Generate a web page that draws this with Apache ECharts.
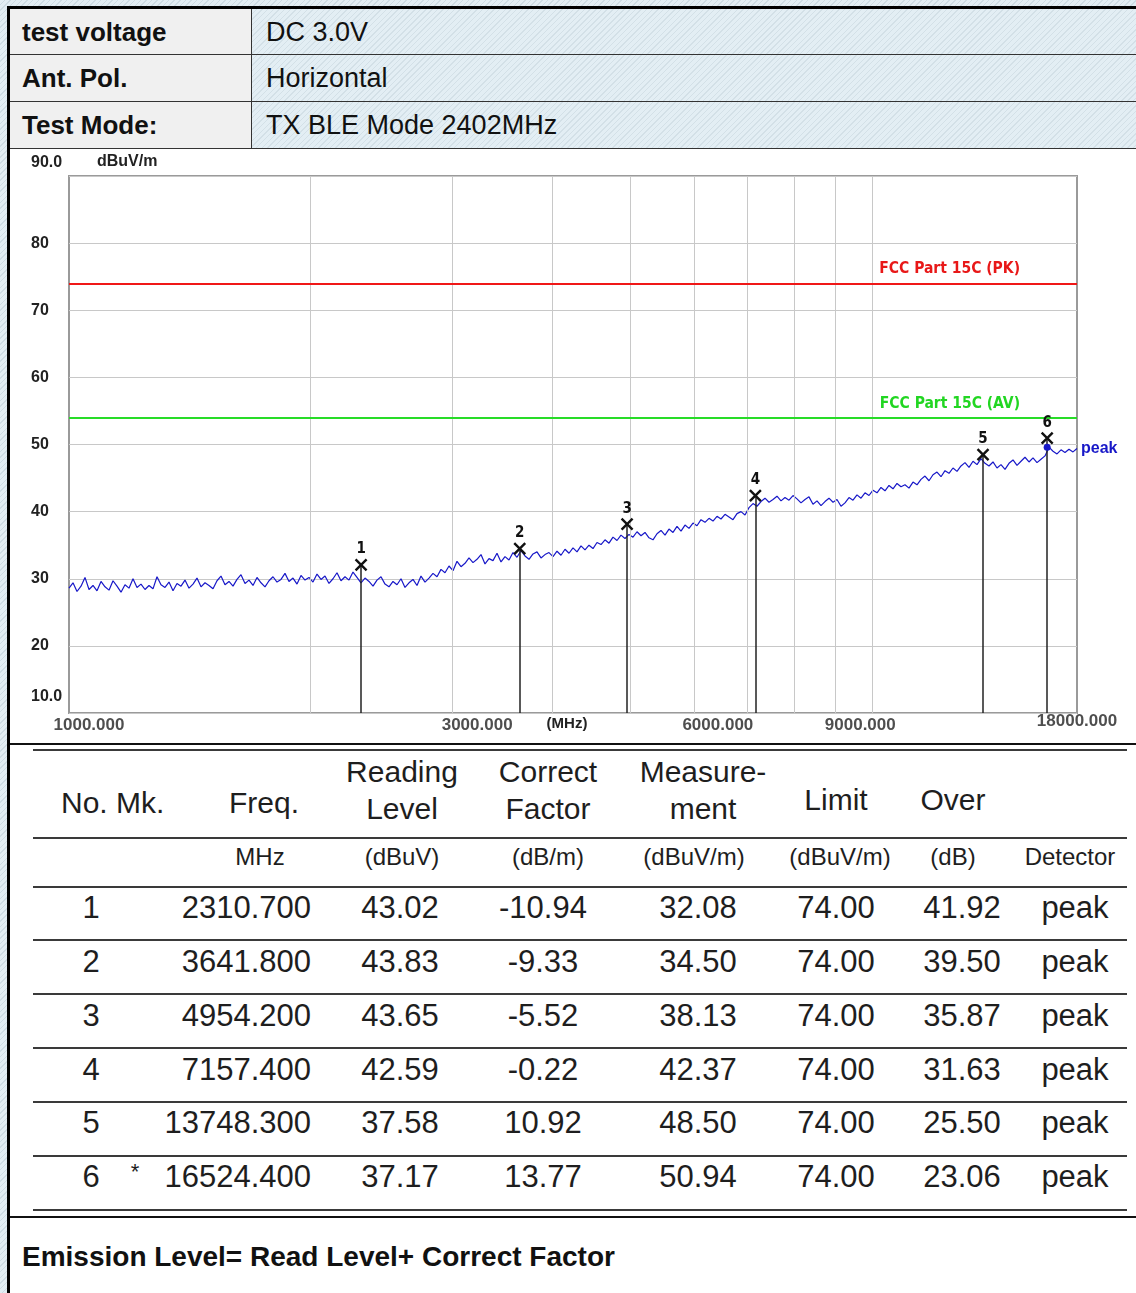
<!DOCTYPE html>
<html>
<head>
<meta charset="utf-8">
<script src="https://cdn.jsdelivr.net/npm/echarts@6/dist/echarts.min.js"></script>
<style>
  html, body { margin: 0; padding: 0; }
  body {
    width: 1136px; height: 1293px; position: relative; overflow: hidden;
    font-family: "Liberation Sans", Arial, sans-serif; color: #1e1e1e;
    background: repeating-linear-gradient(135deg, #e2edf3 0 3px, #cddbe3 3px 4px);
  }
  .abs { position: absolute; }
  .sheet { left: 7px; top: 6px; width: 1129px; height: 1287px; background: #fff;
           border-top: 3px solid #000; border-left: 3px solid #000; box-sizing: border-box; }
  .hdrL { background: #f0f0f0; }
  .hdrR { background: repeating-linear-gradient(135deg, #e3eef4 0 3px, #d3e0e7 3px 4px); }
  .txt { position: absolute; white-space: pre; line-height: 1; }
  #chart { position: absolute; left: 10px; top: 149px; width: 1126px; height: 594px; }
</style>
</head>
<body>
<div class="abs sheet"></div>
<div id="page"></div>
<div id="chart"></div>
<script>
// ---- report header ----
const headerKeys = ['test voltage', 'Ant. Pol.', 'Test Mode:'];
const headerValues = ['DC 3.0V', 'Horizontal', 'TX BLE Mode 2402MHz'];

// ---- marker table ----
const markerNo = [1, 2, 3, 4, 5, 6];
const markerMk = ['', '', '', '', '', '*'];
const markerFreq = [2310.7, 3641.8, 4954.2, 7157.4, 13748.3, 16524.4];
const readingLevel = [43.02, 43.83, 43.65, 42.59, 37.58, 37.17];
const correctFactor = [-10.94, -9.33, -5.52, -0.22, 10.92, 13.77];
const measurement = [32.08, 34.50, 38.13, 42.37, 48.50, 50.94];
const limitLevel = [74.00, 74.00, 74.00, 74.00, 74.00, 74.00];
const overMargin = [41.92, 39.50, 35.87, 31.63, 25.50, 23.06];
const detector = ['peak', 'peak', 'peak', 'peak', 'peak', 'peak'];
const footNote = 'Emission Level= Read Level+ Correct Factor';

// ---- spectrum plot ----
const limitPK = 74;
const limitAV = 54;
const limitPKName = 'FCC Part 15C (PK)';
const limitAVName = 'FCC Part 15C (AV)';
const gridFreqs = [2000, 3000, 4000, 5000, 6000, 7000, 8000, 9000, 10000];
const xTickFreqs = [1000, 3000, 6000, 9000, 18000];
const xTickLabels = ['1000.000', '3000.000', '6000.000', '9000.000', '18000.000'];
const yTickLabels = { 10: '10.0', 20: '20', 30: '30', 40: '40', 50: '50', 60: '60', 70: '70', 80: '80', 90: '90.0' };
const peakDot = [16524.4, 49.6];
// peak-detector sweep, 1 GHz to 18 GHz, evenly spaced on the log frequency scale (dBuV/m)
const traceLevel = [
  28.6,29.4,28.1,28.9,30.2,28.4,29.0,28.2,29.6,28.8,
  28.3,29.7,28.9,28.0,29.1,28.6,30.0,28.7,29.2,28.4,
  29.0,28.5,30.3,29.1,28.7,29.5,28.2,29.3,28.9,29.8,
  28.6,29.2,30.1,28.8,29.4,29.0,28.5,29.7,30.4,29.1,
  29.6,28.9,29.9,30.6,29.3,29.8,29.0,30.2,29.4,28.8,
  29.7,30.3,29.5,29.9,30.8,29.6,30.1,29.2,30.5,29.8,
  30.2,29.5,30.7,29.9,30.4,29.3,30.0,30.9,29.7,30.3,
  29.8,31.0,30.2,29.4,30.1,29.6,28.9,29.8,30.3,29.2,
  28.8,29.6,29.1,30.0,28.7,29.4,29.9,29.0,30.4,29.5,
  30.1,30.8,30.3,31.4,30.9,31.9,31.2,32.6,31.8,32.3,
  33.1,32.4,32.9,33.6,32.2,33.0,32.7,33.8,32.5,33.3,
  32.8,33.9,33.2,34.2,33.4,32.9,33.7,34.0,33.1,33.6,
  33.9,33.3,34.1,33.5,34.4,33.8,34.6,34.0,34.9,34.3,
  35.0,34.5,35.4,35.1,35.8,35.3,36.2,35.7,36.5,36.0,
  36.6,36.2,37.0,36.4,36.9,36.1,35.8,36.7,37.2,36.5,
  37.4,36.9,37.8,37.1,38.0,37.5,38.3,37.9,38.8,38.4,
  39.0,38.6,39.3,38.9,39.6,39.2,38.8,39.7,40.0,39.5,
  40.6,41.2,40.8,41.5,42.0,41.4,41.8,42.3,41.6,42.1,
  41.7,42.4,41.9,41.3,41.8,42.2,41.1,41.6,40.9,41.5,
  42.0,41.4,41.8,40.8,41.3,42.1,41.7,42.5,42.0,42.8,
  42.4,43.2,42.8,43.6,43.1,43.9,43.4,44.2,43.7,44.0,
  43.5,44.4,44.0,44.8,45.3,44.6,45.5,45.9,45.2,46.1,
  45.7,46.5,46.0,46.8,47.3,46.6,47.5,47.0,47.9,47.2,
  46.8,47.4,46.5,47.0,46.3,47.2,47.7,46.9,47.5,48.1,
  47.4,48.0,47.3,47.8,48.3,49.6,49.0,48.6,49.2,48.8,
  49.3,48.9,49.4
];

// ---------- HTML parts of the report ----------
const page = document.getElementById('page');
function box(x, y, w, h, cls, style) {
  const d = document.createElement('div');
  d.className = 'abs ' + (cls || '');
  Object.assign(d.style, { left: x + 'px', top: y + 'px', width: w + 'px', height: h + 'px' }, style || {});
  page.appendChild(d);
  return d;
}
function put(text, x, y, opt) {
  const o = Object.assign({ align: 'left', size: 24, weight: 'normal', color: '#1e1e1e' }, opt || {});
  const d = document.createElement('div');
  d.className = 'txt';
  d.textContent = text;
  const tx = o.align === 'center' ? '-50%' : o.align === 'right' ? '-100%' : '0';
  Object.assign(d.style, {
    left: x + 'px', top: y + 'px', fontSize: o.size + 'px', fontWeight: o.weight,
    color: o.color, transform: 'translate(' + tx + ',-50%)', textAlign: o.align
  });
  page.appendChild(d);
  return d;
}

// header block
const hdrRows = [[9, 45], [55, 46], [102, 46]];
const hdrTextY = [32, 78, 125];
hdrRows.forEach(([y, h], i) => {
  box(10, y, 241, h, 'hdrL');
  box(252, y, 884, h, 'hdrR');
  box(10, y + h, 1126, 1, '', { background: '#333' });
  put(headerKeys[i], 22, hdrTextY[i], { size: 26, weight: 'bold', color: '#111' });
  put(headerValues[i], 266, hdrTextY[i], { size: 27, color: '#111' });
});
box(251, 9, 1, 139, '', { background: '#333' });

// section separators
box(10, 743, 1126, 2, '', { background: '#111' });
box(10, 1216, 1126, 2, '', { background: '#111' });

// marker table rules
[750, 838, 887, 940, 994, 1048, 1102, 1156, 1210].forEach(y =>
  box(33, y - 1, 1094, 2, '', { background: '#3a3a3a' }));

// marker table column headings
put('No. Mk.', 61, 803, { size: 30 });
put('Freq.', 264, 803, { align: 'center', size: 30 });
put('Reading\nLevel', 402, 790, { align: 'center', size: 30 }).style.lineHeight = '37px';
put('Correct\nFactor', 548, 790, { align: 'center', size: 30 }).style.lineHeight = '37px';
put('Measure-\nment', 703, 790, { align: 'center', size: 30 }).style.lineHeight = '37px';
put('Limit', 836, 800, { align: 'center', size: 30 });
put('Over', 953, 800, { align: 'center', size: 30 });
const unitLabels = ['MHz', '(dBuV)', '(dB/m)', '(dBuV/m)', '(dBuV/m)', '(dB)', 'Detector'];
const unitX = [260, 402, 548, 694, 840, 953, 1070];
unitLabels.forEach((u, i) => put(u, unitX[i], 857, { align: 'center', size: 24 }));

// marker table rows
const rowY = [907, 961, 1015, 1069, 1122, 1176];
markerNo.forEach((n, i) => {
  const y = rowY[i];
  put(String(n), 91, y, { align: 'center', size: 31 });
  if (markerMk[i]) put(markerMk[i], 135, y - 4, { align: 'center', size: 22 });
  put(markerFreq[i].toFixed(3), 311, y, { align: 'right', size: 31 });
  put(readingLevel[i].toFixed(2), 400, y, { align: 'center', size: 31 });
  put(correctFactor[i].toFixed(2), 543, y, { align: 'center', size: 31 });
  put(measurement[i].toFixed(2), 698, y, { align: 'center', size: 31 });
  put(limitLevel[i].toFixed(2), 836, y, { align: 'center', size: 31 });
  put(overMargin[i].toFixed(2), 962, y, { align: 'center', size: 31 });
  put(detector[i], 1075, y, { align: 'center', size: 31 });
});
put(footNote, 22, 1257, { size: 28, weight: 'bold', color: '#111' });

// ---------- spectrum plot ----------
const FONT = '"Liberation Sans", Arial, sans-serif';
const NARROW = '"Liberation Sans Narrow", "DejaVu Sans Condensed", "Liberation Sans", sans-serif';
const TRACE = '#1818c8';
const xLabelOffsets = [[20, 0], [25, 0], [24, 0], [25, 0], [0, -4]];

const chart = echarts.init(document.getElementById('chart'), null, { renderer: 'canvas' });
chart.setOption({
  animation: false,
  backgroundColor: '#fff',
  grid: { left: 59, top: 27, width: 1008, height: 537, show: true, backgroundColor: '#fff',
          borderColor: '#9a9a9a', borderWidth: 2 },
  xAxis: [
    { type: 'log', logBase: 10, min: 1000, max: 18000,
      axisLine: { show: false }, axisTick: { show: false }, axisLabel: { show: false },
      splitLine: { show: false }, minorSplitLine: { show: false },
      name: '(MHz)', nameLocation: 'middle', nameGap: 3,
      nameTextStyle: { fontFamily: FONT, fontWeight: 'bold', fontSize: 15, color: '#222',
                       verticalAlign: 'top', padding: [0, 12, 0, 0] } },
    { type: 'category', show: false, boundaryGap: false,
      data: traceLevel.map((_, i) => i) }
  ],
  yAxis: {
    type: 'value', min: 10, max: 90, interval: 10,
    axisLine: { show: false }, axisTick: { show: false },
    splitLine: { show: true, lineStyle: { color: '#c8c8c8', width: 1 } },
    axisLabel: {
      align: 'left', margin: 38, fontFamily: FONT, fontWeight: 'bold', fontSize: 16, color: '#222',
      formatter: v => v === 90 ? '{t|' + yTickLabels[v] + '}' : v === 10 ? '{b|' + yTickLabels[v] + '}' : yTickLabels[v],
      rich: {
        t: { fontFamily: FONT, fontWeight: 'bold', fontSize: 16, color: '#222', padding: [0, 0, 26, 0] },
        b: { fontFamily: FONT, fontWeight: 'bold', fontSize: 16, color: '#222', padding: [0, 0, 32, 0] }
      }
    },
    name: 'dBuV/m', nameLocation: 'end', nameGap: 14,
    nameTextStyle: { fontFamily: FONT, fontWeight: 'bold', fontSize: 16, color: '#222',
                     align: 'left', verticalAlign: 'middle', padding: [0, 0, 0, 28] }
  },
  series: [
    { // frequency grid at every 1000 MHz of the first decade
      type: 'line', xAxisIndex: 0, data: [], silent: true, z: 1,
      markLine: { symbol: 'none', silent: true, animation: false, label: { show: false },
                  lineStyle: { color: '#c8c8c8', width: 1, type: 'solid' },
                  data: gridFreqs.map(f => ({ xAxis: f })) }
    },
    { // limit lines
      type: 'line', xAxisIndex: 0, data: [], silent: true, z: 2,
      markLine: { symbol: 'none', silent: true, animation: false,
        data: [
          { yAxis: limitPK, lineStyle: { color: '#f01818', width: 2, type: 'solid' },
            label: { show: true, formatter: limitPKName, position: 'insideEndTop', distance: [57, 6],
                     color: '#e81818', fontFamily: NARROW, fontWeight: 'bold', fontSize: 15.5 } },
          { yAxis: limitAV, lineStyle: { color: '#28dc28', width: 2, type: 'solid' },
            label: { show: true, formatter: limitAVName, position: 'insideEndTop', distance: [57, 6],
                     color: '#22d622', fontFamily: NARROW, fontWeight: 'bold', fontSize: 15.5 } }
        ] }
    },
    { // measured trace
      type: 'line', xAxisIndex: 1, yAxisIndex: 0, data: traceLevel, z: 4,
      symbol: 'none', showSymbol: false, silent: true,
      lineStyle: { color: TRACE, width: 1.2 },
      endLabel: { show: true, formatter: () => 'peak', color: TRACE, fontFamily: FONT,
                  fontWeight: 'bold', fontSize: 16, distance: 4 }
    },
    { // peak marker dot
      type: 'scatter', xAxisIndex: 0, data: [peakDot], symbol: 'circle', symbolSize: 7, z: 5,
      silent: true, itemStyle: { color: TRACE, opacity: 1 }
    },
    { // markers: vertical drop lines, cross and number
      type: 'scatter', xAxisIndex: 0, z: 6, silent: true,
      data: markerFreq.map((f, i) => [f, measurement[i]]),
      symbol: 'path://M0,0L10,10M10,0L0,10', symbolSize: 11,
      itemStyle: { color: 'none', borderColor: '#111', borderWidth: 2.4, opacity: 1 },
      label: { show: true, position: 'top', distance: 0, formatter: p => String(markerNo[p.dataIndex]),
               color: '#111', fontFamily: NARROW, fontWeight: 'bold', fontSize: 15 },
      markLine: { symbol: 'none', silent: true, animation: false, label: { show: false },
                  lineStyle: { color: '#222', width: 1.5, type: 'solid' },
                  data: markerFreq.map((f, i) => [{ coord: [f, 10] }, { coord: [f, measurement[i]] }]) }
    },
    { // frequency tick labels
      type: 'scatter', xAxisIndex: 0, z: 3, silent: true, clip: false,
      symbolSize: 1, itemStyle: { color: 'rgba(0,0,0,0)' },
      data: xTickFreqs.map((f, i) => ({ value: [f, 10], label: { offset: xLabelOffsets[i] } })),
      label: { show: true, position: 'bottom', distance: 3, formatter: p => xTickLabels[p.dataIndex],
               fontFamily: FONT, fontWeight: 'bold', fontSize: 17, color: '#222' }
    }
  ]
});
</script>
</body>
</html>
